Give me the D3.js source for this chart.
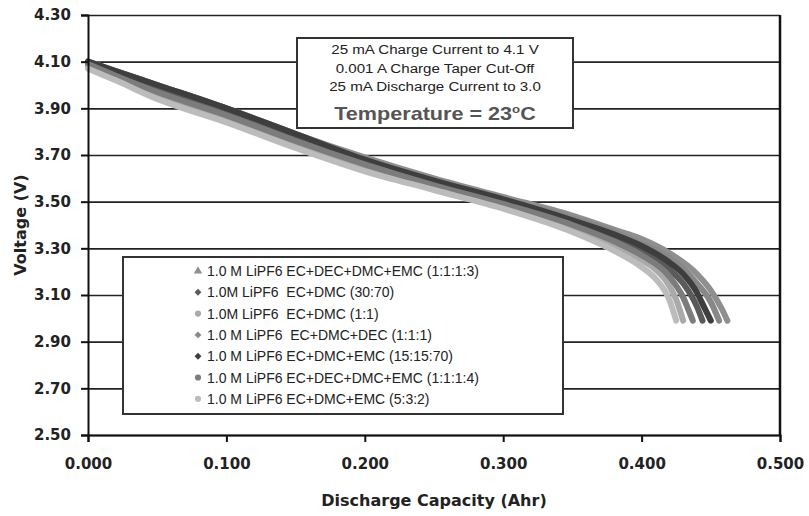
<!DOCTYPE html>
<html>
<head>
<meta charset="utf-8">
<script src="https://cdn.jsdelivr.net/npm/d3@7"></script>
<style>
  body { margin: 0; background: #fff; }
  svg { display: block; }
  .tick text { font-family: "DejaVu Sans", sans-serif; font-weight: bold; font-size: 15px; fill: #222; }
</style>
</head>
<body>
<div id="chart"></div>
<script>
// Chart size and plot area
const width = 809;
const height = 516;
const marginTop = 15;
const marginRight = 29;
const marginBottom = 81;
const marginLeft = 88;

// Tick labels
const yTicks = [2.5, 2.7, 2.9, 3.1, 3.3, 3.5, 3.7, 3.9, 4.1, 4.3];
const xTicks = [0, 0.1, 0.2, 0.3, 0.4, 0.5];

// Legend entries, in legend order
const seriesNames = [
  "1.0 M LiPF6 EC+DEC+DMC+EMC (1:1:1:3)",
  "1.0M LiPF6  EC+DMC (30:70)",
  "1.0M LiPF6  EC+DMC (1:1)",
  "1.0 M LiPF6  EC+DMC+DEC (1:1:1)",
  "1.0 M LiPF6 EC+DMC+EMC (15:15:70)",
  "1.0 M LiPF6 EC+DEC+DMC+EMC (1:1:1:4)",
  "1.0 M LiPF6 EC+DMC+EMC (5:3:2)"
];
const seriesColors = ["#8f8f8f", "#5a5a5a", "#aaaaaa", "#888888", "#3e3e3e", "#7c7c7c", "#bcbcbc"];
const seriesMarkers = ["triangle", "diamond", "circle", "diamond", "diamond", "circle", "circle"];

// [discharge capacity (Ahr), voltage (V)]
const s1 = [[0, 4.10], [0.02, 4.06], [0.05, 4.00], [0.10, 3.90], [0.15, 3.79], [0.20, 3.69], [0.25, 3.60], [0.30, 3.52], [0.35, 3.44], [0.38, 3.38], [0.40, 3.34], [0.42, 3.28], [0.44, 3.19], [0.45, 3.12], [0.458, 3.04], [0.462, 2.99]];
const s2 = [[0, 4.10], [0.02, 4.05], [0.05, 3.99], [0.10, 3.89], [0.15, 3.78], [0.20, 3.67], [0.25, 3.58], [0.30, 3.50], [0.35, 3.41], [0.38, 3.35], [0.40, 3.29], [0.42, 3.21], [0.43, 3.15], [0.44, 3.05], [0.444, 2.99]];
const s3 = [[0, 4.08], [0.02, 4.03], [0.05, 3.96], [0.10, 3.86], [0.15, 3.75], [0.20, 3.65], [0.25, 3.56], [0.30, 3.48], [0.35, 3.39], [0.38, 3.31], [0.40, 3.25], [0.41, 3.21], [0.42, 3.14], [0.425, 3.08], [0.430, 2.99]];
const s4 = [[0, 4.10], [0.02, 4.06], [0.05, 4.00], [0.10, 3.90], [0.15, 3.79], [0.20, 3.68], [0.25, 3.59], [0.30, 3.51], [0.35, 3.43], [0.38, 3.37], [0.40, 3.32], [0.42, 3.26], [0.44, 3.15], [0.45, 3.07], [0.456, 2.99]];
const s5 = [[0, 4.10], [0.02, 4.06], [0.05, 4.00], [0.10, 3.90], [0.15, 3.79], [0.20, 3.68], [0.25, 3.59], [0.30, 3.51], [0.35, 3.42], [0.38, 3.36], [0.40, 3.31], [0.42, 3.24], [0.43, 3.19], [0.44, 3.11], [0.445, 3.05], [0.450, 2.99]];
const s6 = [[0, 4.09], [0.02, 4.04], [0.05, 3.97], [0.10, 3.87], [0.15, 3.76], [0.20, 3.66], [0.25, 3.57], [0.30, 3.49], [0.35, 3.40], [0.38, 3.33], [0.40, 3.27], [0.42, 3.18], [0.43, 3.09], [0.437, 2.99]];
const s7 = [[0, 4.07], [0.02, 4.02], [0.05, 3.94], [0.10, 3.84], [0.15, 3.73], [0.20, 3.63], [0.25, 3.55], [0.30, 3.47], [0.35, 3.37], [0.38, 3.29], [0.40, 3.22], [0.41, 3.17], [0.42, 3.08], [0.425, 2.99]];
const seriesData = [s1, s2, s3, s4, s5, s6, s7];

// Annotation text
const noteLines = ["25 mA Charge Current to 4.1 V", "0.001 A Charge Taper Cut-Off", "25 mA Discharge Current to 3.0"];

const x = d3.scaleLinear()
    .domain([0, 0.5])
    .range([marginLeft, width - marginRight]);

const y = d3.scaleLinear()
    .domain([2.5, 4.3])
    .range([height - marginBottom, marginTop]);

const svg = d3.select("#chart").append("svg")
    .attr("width", width)
    .attr("height", height);

// Horizontal gridlines
svg.append("g")
    .attr("transform", `translate(${marginLeft},0)`)
    .call(d3.axisLeft(y).tickValues(yTicks).tickSize(-(width - marginLeft - marginRight)).tickFormat(""))
    .call(g => g.select(".domain").remove())
    .call(g => g.selectAll(".tick line").attr("stroke", "#222").attr("stroke-width", 1.6));

// Right border of the plot
svg.append("line")
    .attr("x1", x(0.5)).attr("x2", x(0.5))
    .attr("y1", y(4.3)).attr("y2", y(2.5))
    .attr("stroke", "#111").attr("stroke-width", 2.5);

// Series
const line = d3.line()
    .x(d => x(d[0]))
    .y(d => y(d[1]))
    .curve(d3.curveMonotoneX);

svg.append("g")
  .selectAll("path")
  .data(seriesData)
  .join("path")
    .attr("d", line)
    .attr("fill", "none")
    .attr("stroke", (d, i) => seriesColors[i])
    .attr("stroke-width", 6)
    .attr("stroke-linecap", "round")
    .attr("stroke-linejoin", "round");

// Axes
svg.append("g")
    .attr("transform", `translate(${marginLeft},0)`)
    .call(d3.axisLeft(y).tickValues(yTicks).tickSize(7).tickPadding(10).tickFormat(d3.format(".2f")))
    .call(g => g.selectAll("line, .domain").attr("stroke", "#111").attr("stroke-width", 2));

svg.append("g")
    .attr("transform", `translate(0,${height - marginBottom})`)
    .call(d3.axisBottom(x).tickValues(xTicks).tickSize(7).tickPadding(16).tickFormat(d3.format(".3f")))
    .call(g => g.selectAll("line, .domain").attr("stroke", "#111").attr("stroke-width", 2));

// Axis titles
svg.append("text")
    .attr("x", x(0.25))
    .attr("y", 506)
    .attr("text-anchor", "middle")
    .attr("font-family", "DejaVu Sans, sans-serif")
    .attr("font-weight", "bold")
    .attr("font-size", 16)
    .attr("fill", "#222")
    .text("Discharge Capacity (Ahr)");

svg.append("text")
    .attr("transform", `translate(26,${y(3.4)}) rotate(-90)`)
    .attr("text-anchor", "middle")
    .attr("font-family", "DejaVu Sans, sans-serif")
    .attr("font-weight", "bold")
    .attr("font-size", 16)
    .attr("fill", "#222")
    .text("Voltage (V)");

// Annotation box
const note = svg.append("g");
note.append("rect")
    .attr("x", 297).attr("y", 38)
    .attr("width", 276).attr("height", 90)
    .attr("fill", "#fff")
    .attr("stroke", "#333").attr("stroke-width", 2);

note.selectAll("text.line")
  .data(noteLines)
  .join("text")
    .attr("class", "line")
    .attr("transform", (d, i) => `translate(435,${54 + i * 18.5}) scale(1.12,1)`)
    .attr("text-anchor", "middle")
    .attr("font-family", "Liberation Sans, Arial, sans-serif")
    .attr("font-size", 13.5)
    .attr("fill", "#222")
    .text(d => d);

const temp = note.append("text")
    .attr("transform", "translate(435,120) scale(1.2,1)")
    .attr("text-anchor", "middle")
    .attr("font-family", "Liberation Sans, Arial, sans-serif")
    .attr("font-weight", "bold")
    .attr("font-size", 18)
    .attr("fill", "#555");
temp.append("tspan").text("Temperature = 23");
temp.append("tspan").attr("font-size", 11).attr("dy", -7).text("o");
temp.append("tspan").attr("dy", 7).text("C");

// Legend
const legend = svg.append("g");
legend.append("rect")
    .attr("x", 123).attr("y", 257)
    .attr("width", 440).attr("height", 157)
    .attr("fill", "#fff")
    .attr("stroke", "#333").attr("stroke-width", 2);

const rows = legend.selectAll("g.row")
  .data(seriesNames)
  .join("g")
    .attr("class", "row")
    .attr("transform", (d, i) => `translate(198,${271 + i * 21.3})`);

rows.append("path")
    .attr("d", (d, i) => {
      const t = seriesMarkers[i] === "triangle" ? d3.symbolTriangle
              : seriesMarkers[i] === "diamond" ? d3.symbolDiamond2 : d3.symbolCircle;
      return d3.symbol(t, 30)();
    })
    .attr("fill", (d, i) => seriesColors[i]);

rows.append("text")
    .attr("x", 9)
    .attr("dy", "0.36em")
    .attr("font-family", "Liberation Sans, Arial, sans-serif")
    .attr("font-size", 14)
    .attr("fill", "#222")
    .attr("xml:space", "preserve")
    .style("white-space", "pre")
    .text(d => d);
</script>
</body>
</html>
